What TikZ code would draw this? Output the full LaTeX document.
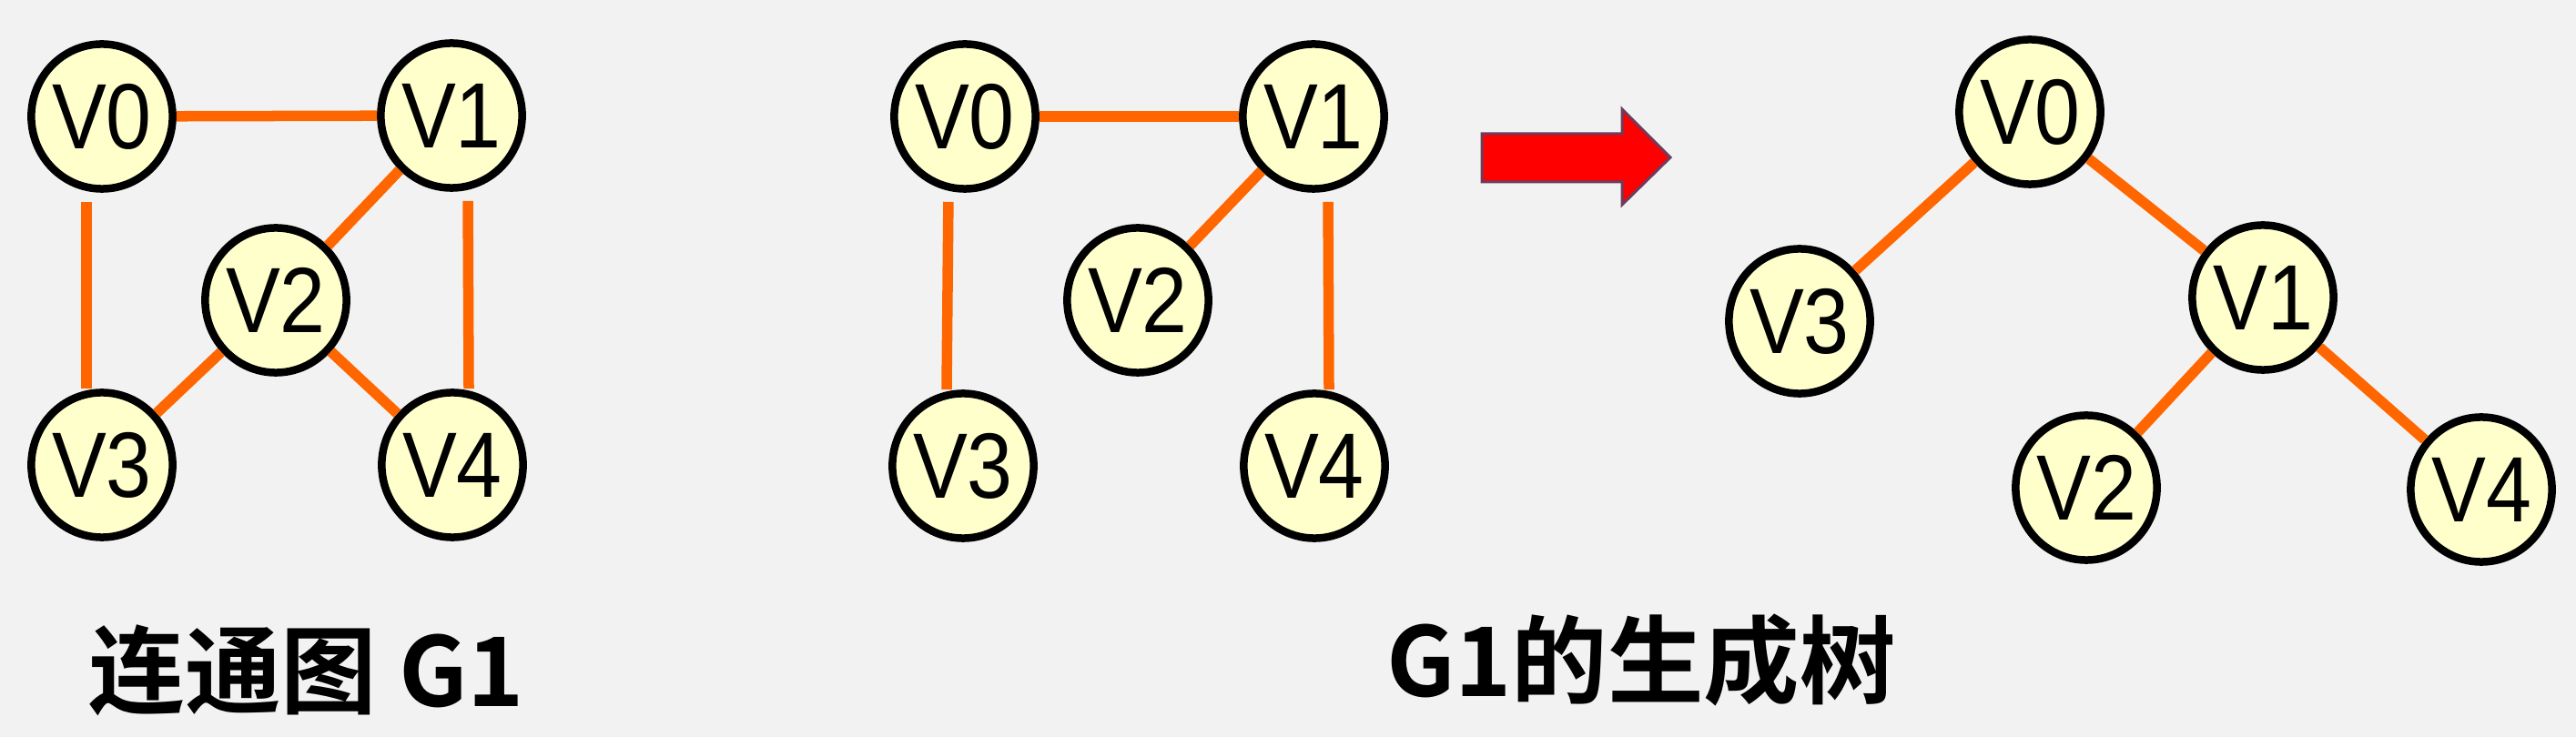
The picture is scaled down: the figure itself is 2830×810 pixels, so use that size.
\documentclass[tikz,border=0pt]{standalone}
\usepackage{fontspec}
\setmainfont{Liberation Sans}
\newfontfamily\vfont{Liberation Sans}[FakeStretch=0.88]
\newfontfamily\cjk{Noto Sans CJK SC}[BoldFont={Noto Sans CJK SC Bold}]
\usetikzlibrary{shapes.geometric}
\definecolor{bggray}{RGB}{242,242,242}
\definecolor{nodeyellow}{RGB}{255,255,204}
\definecolor{edgeorange}{RGB}{255,102,0}
\definecolor{arrowred}{RGB}{255,0,0}
\definecolor{arrowrim}{RGB}{110,60,90}

\begin{document}
\begin{tikzpicture}[
    x=0.01cm, y=-0.01cm,
    vtx/.style={
        ellipse,
        draw=black,
        line width=0.085cm,
        fill=nodeyellow,
        minimum width=1.54cm,
        minimum height=1.59cm,
        inner sep=0pt,
        font=\vfont\fontsize{29}{29}\selectfont
    },
    edge/.style={
        draw=edgeorange,
        line width=0.115cm
    },
    title/.style={
        font=\cjk\bfseries\fontsize{30}{30}\selectfont
    },
    bigarrow/.style={
        fill=arrowred,
        draw=arrowrim,
        line width=0.03cm
    }
]

\fill[bggray] (0,0) rectangle (2830,810);

% connected graph
\node[vtx] (g0) at (112,128) {V0};
\node[vtx] (g1) at (496,127) {V1};
\node[vtx] (g2) at (303,330) {V2};
\node[vtx] (g3) at (112,511) {V3};
\node[vtx] (g4) at (497,511) {V4};

\draw[edge] (g0) -- (g1);
\draw[edge] (g1) -- (g2);
\draw[edge] (g2) -- (g3);
\draw[edge] (g2) -- (g4);
\draw[edge, shorten <=0.1cm] ([xshift=-0.17cm]g0.south) -- ([xshift=-0.17cm]g3.north);
\draw[edge, shorten <=0.1cm] ([xshift=0.18cm]g1.south) -- ([xshift=0.18cm]g4.north);

% spanning tree, same layout
\node[vtx] (s0) at (1060,128) {V0};
\node[vtx] (s1) at (1443,128) {V1};
\node[vtx] (s2) at (1250,330) {V2};
\node[vtx] (s3) at (1058,512) {V3};
\node[vtx] (s4) at (1444,512) {V4};

\draw[edge] (s0) -- (s1);
\draw[edge] (s1) -- (s2);
\draw[edge, shorten <=0.1cm] ([xshift=-0.18cm]s0.south) -- ([xshift=-0.18cm]s3.north);
\draw[edge, shorten <=0.1cm] ([xshift=0.16cm]s1.south) -- ([xshift=0.16cm]s4.north);

\draw[bigarrow] (1628,147) -- (1782,147) -- (1782,120) -- (1835,173)
    -- (1782,225) -- (1782,200) -- (1628,200) -- cycle;

% spanning tree as a tree
\node[vtx] (t0) at (2230,123) {V0};
\node[vtx] (t3) at (1977,353) {V3};
\node[vtx] (t1) at (2486,327) {V1};
\node[vtx] (t2) at (2292,536) {V2};
\node[vtx] (t4) at (2726,538) {V4};

\draw[edge] (t0) -- (t3);
\draw[edge] (t0) -- (t1);
\draw[edge] (t1) -- (t2);
\draw[edge] (t1) -- (t4);

\node[title] (cap1) at (337,737) {连通图 G1};
\node[title] (cap2) at (1803,726) {G1的生成树};

\end{tikzpicture}
\end{document}
